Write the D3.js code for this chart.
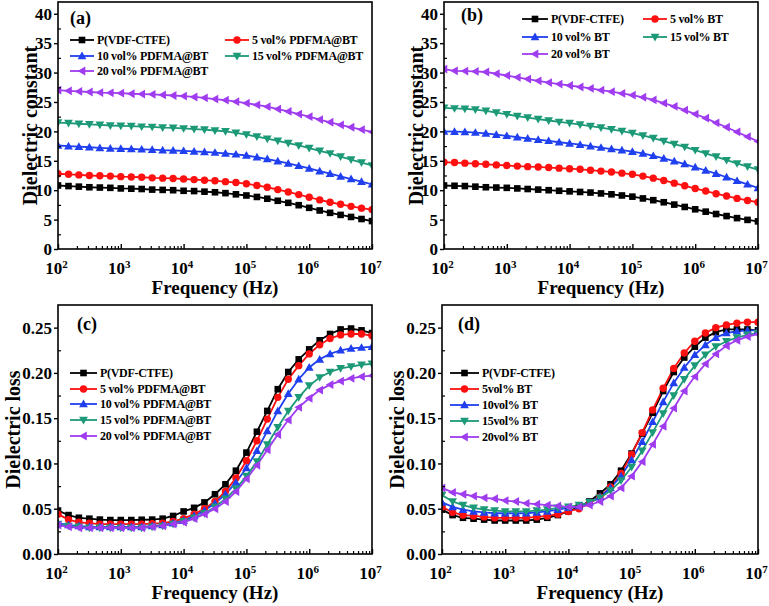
<!DOCTYPE html>
<html>
<head>
<meta charset="utf-8">
<script src="https://cdn.jsdelivr.net/npm/d3@7"></script>
<style>
  body { margin: 0; background: #fff; }
  svg { display: block; }
  text { font-family: "Liberation Serif", "Times New Roman", serif; font-weight: bold; fill: #000; }
</style>
</head>
<body>
<svg id="chart" width="769" height="606"></svg>
<script>
// ---------------- DATA ----------------
const freq = [1e2, 1.47e2, 2.15e2, 3.16e2, 4.64e2, 6.81e2,
              1e3, 1.47e3, 2.15e3, 3.16e3, 4.64e3, 6.81e3,
              1e4, 1.47e4, 2.15e4, 3.16e4, 4.64e4, 6.81e4,
              1e5, 1.47e5, 2.15e5, 3.16e5, 4.64e5, 6.81e5,
              1e6, 1.47e6, 2.15e6, 3.16e6, 4.64e6, 6.81e6, 1e7];

const xTickValues = [1e2, 1e3, 1e4, 1e5, 1e6, 1e7];
const xTickExponents = ["2", "3", "4", "5", "6", "7"];
const constTicks = [0, 5, 10, 15, 20, 25, 30, 35, 40];
const lossTicks = [0, 0.05, 0.10, 0.15, 0.20, 0.25];

const namesPDFMA = ["P(VDF-CTFE)", "5 vol% PDFMA@BT", "10 vol% PDFMA@BT", "15 vol% PDFMA@BT", "20 vol% PDFMA@BT"];
const namesBT_b = ["P(VDF-CTFE)", "5 vol% BT", "10 vol% BT", "15 vol% BT", "20 vol% BT"];
const namesBT_d = ["P(VDF-CTFE)", "5vol% BT", "10vol% BT", "15vol% BT", "20vol% BT"];

// (a) dielectric constant, PDFMA@BT
const a0 = [10.8,10.7,10.6,10.5,10.45,10.4,10.3,10.25,10.2,10.1,10.05,10.0,9.9,9.85,9.75,9.65,9.5,9.3,9.1,8.85,8.55,8.2,7.85,7.45,7.0,6.55,6.15,5.8,5.45,5.1,4.75];
const a5 = [12.8,12.7,12.6,12.5,12.45,12.4,12.3,12.25,12.2,12.1,12.05,12.0,11.9,11.8,11.7,11.6,11.45,11.3,11.1,10.8,10.5,10.1,9.7,9.25,8.8,8.35,7.95,7.6,7.25,6.95,6.7];
const a10 = [17.6,17.5,17.4,17.3,17.2,17.1,17.05,17.0,16.95,16.9,16.8,16.75,16.7,16.6,16.5,16.4,16.25,16.1,15.9,15.6,15.3,14.95,14.55,14.15,13.7,13.25,12.8,12.35,11.9,11.45,11.0];
const a15 = [21.5,21.4,21.3,21.2,21.1,21.0,20.95,20.9,20.8,20.75,20.65,20.6,20.5,20.4,20.3,20.15,20.0,19.75,19.45,19.1,18.75,18.4,18.0,17.6,17.15,16.7,16.25,15.7,15.2,14.7,14.2];
const a20 = [27.0,26.9,26.8,26.7,26.6,26.55,26.5,26.4,26.35,26.3,26.2,26.1,26.0,25.85,25.7,25.5,25.3,25.05,24.8,24.5,24.2,23.8,23.4,22.95,22.5,22.0,21.55,21.1,20.7,20.3,19.9];

// (b) dielectric constant, BT
const b0 = [10.8,10.75,10.7,10.6,10.5,10.45,10.4,10.3,10.2,10.1,10.0,9.9,9.8,9.7,9.6,9.45,9.3,9.1,8.9,8.6,8.3,7.95,7.55,7.15,6.75,6.35,5.95,5.6,5.25,4.95,4.7];
const b5 = [14.75,14.7,14.6,14.5,14.4,14.3,14.2,14.1,14.0,13.95,13.85,13.75,13.65,13.55,13.4,13.25,13.1,12.9,12.7,12.4,12.05,11.65,11.2,10.75,10.3,9.85,9.4,9.0,8.6,8.25,7.95];
const b10 = [20.0,19.95,19.9,19.8,19.65,19.45,19.25,19.0,18.8,18.6,18.4,18.15,17.95,17.75,17.5,17.25,17.0,16.8,16.55,16.25,15.85,15.4,14.95,14.45,13.9,13.35,12.8,12.2,11.6,11.0,10.4];
const b15 = [24.0,23.9,23.85,23.7,23.5,23.2,22.9,22.6,22.35,22.1,21.85,21.6,21.4,21.15,20.9,20.65,20.35,20.05,19.7,19.3,18.85,18.35,17.85,17.35,16.8,16.25,15.7,15.1,14.55,14.0,13.5];
const b20 = [30.6,30.3,30.25,30.2,30.1,29.8,29.5,29.2,28.9,28.6,28.3,28.05,27.8,27.55,27.3,27.0,26.75,26.45,26.15,25.8,25.35,24.8,24.25,23.6,22.95,22.25,21.45,20.7,19.9,19.1,18.3];

// (c) dielectric loss, PDFMA@BT
const c0 = [0.048,0.043,0.040,0.039,0.038,0.0375,0.0375,0.0375,0.0378,0.038,0.039,0.042,0.047,0.051,0.057,0.066,0.077,0.092,0.112,0.135,0.158,0.182,0.201,0.215,0.226,0.236,0.243,0.248,0.249,0.247,0.244];
const c5 = [0.044,0.038,0.035,0.034,0.033,0.033,0.033,0.033,0.033,0.0335,0.034,0.036,0.039,0.044,0.050,0.058,0.069,0.084,0.103,0.125,0.149,0.173,0.193,0.208,0.221,0.231,0.238,0.242,0.243,0.243,0.241];
const c10 = [0.034,0.032,0.031,0.030,0.030,0.030,0.030,0.030,0.030,0.031,0.032,0.034,0.037,0.042,0.048,0.056,0.066,0.079,0.095,0.114,0.136,0.158,0.177,0.193,0.206,0.215,0.221,0.225,0.227,0.228,0.229];
const c15 = [0.033,0.031,0.030,0.029,0.029,0.029,0.029,0.029,0.029,0.030,0.031,0.033,0.036,0.040,0.045,0.052,0.061,0.072,0.086,0.102,0.121,0.140,0.158,0.173,0.186,0.195,0.201,0.205,0.207,0.209,0.210];
const c20 = [0.032,0.030,0.029,0.029,0.029,0.029,0.029,0.029,0.029,0.030,0.031,0.033,0.035,0.039,0.044,0.050,0.058,0.069,0.083,0.098,0.115,0.132,0.148,0.162,0.172,0.181,0.187,0.191,0.194,0.196,0.197];

// (d) dielectric loss, BT
const d0 = [0.049,0.043,0.040,0.039,0.038,0.037,0.037,0.037,0.037,0.038,0.040,0.043,0.047,0.052,0.058,0.067,0.077,0.092,0.111,0.133,0.156,0.180,0.201,0.217,0.229,0.239,0.245,0.248,0.248,0.248,0.247];
const d5 = [0.052,0.046,0.043,0.042,0.041,0.040,0.040,0.040,0.040,0.041,0.042,0.044,0.047,0.050,0.056,0.063,0.074,0.089,0.110,0.134,0.159,0.183,0.205,0.222,0.235,0.244,0.250,0.253,0.255,0.256,0.256];
const d10 = [0.057,0.052,0.049,0.047,0.046,0.045,0.045,0.045,0.045,0.046,0.047,0.049,0.051,0.053,0.057,0.063,0.073,0.086,0.104,0.124,0.146,0.168,0.189,0.206,0.220,0.231,0.239,0.244,0.246,0.247,0.247];
const d15 = [0.065,0.058,0.054,0.051,0.049,0.048,0.047,0.047,0.047,0.048,0.049,0.051,0.052,0.054,0.057,0.062,0.070,0.081,0.096,0.114,0.134,0.155,0.175,0.193,0.208,0.220,0.229,0.235,0.239,0.242,0.244];
const d20 = [0.073,0.068,0.066,0.064,0.062,0.061,0.059,0.058,0.056,0.055,0.054,0.053,0.052,0.052,0.054,0.058,0.064,0.073,0.086,0.102,0.121,0.141,0.161,0.180,0.196,0.210,0.221,0.230,0.236,0.240,0.243];

// ---------------- STYLE ----------------
const colors = ["#000000", "#ff1010", "#2040f0", "#1c9a78", "#a03cf0"];
const symbols = ["square", "circle", "up", "down", "left"];

const svg = d3.select("#chart");

function drawMarker(g, type, x, y, color) {
  const s = 3.3;
  if (type === "square") {
    g.append("rect").attr("x", x - s).attr("y", y - s).attr("width", 2 * s).attr("height", 2 * s).attr("fill", color);
  } else if (type === "circle") {
    g.append("circle").attr("cx", x).attr("cy", y).attr("r", s + 0.4).attr("fill", color);
  } else {
    const r = s + 1.1;
    let pts;
    if (type === "up") pts = [[x, y - r], [x + r, y + r * 0.75], [x - r, y + r * 0.75]];
    else if (type === "down") pts = [[x, y + r], [x + r, y - r * 0.75], [x - r, y - r * 0.75]];
    else pts = [[x - r, y], [x + r * 0.75, y - r], [x + r * 0.75, y + r]];
    g.append("polygon").attr("points", pts.map(p => p.join(",")).join(" ")).attr("fill", color);
  }
}

function drawPanel(cfg) {
  const { left, right, top, bottom } = cfg;
  const x = d3.scaleLog().domain([1e2, 1e7]).range([left, right]);
  const y = d3.scaleLinear().domain(cfg.yDomain).range([bottom, top]);
  const g = svg.append("g");

  const clipId = "clip" + cfg.id;
  svg.append("clipPath").attr("id", clipId).append("rect")
    .attr("x", left).attr("y", top).attr("width", right - left).attr("height", bottom - top);

  const line = d3.line().x((d, i) => x(freq[i])).y(d => y(d));
  const sg = g.append("g").attr("clip-path", `url(#${clipId})`);
  cfg.series.forEach((vals, k) => {
    sg.append("path").datum(vals).attr("d", line).attr("fill", "none")
      .attr("stroke", colors[k]).attr("stroke-width", 1.8);
  });
  cfg.series.forEach((vals, k) => {
    vals.forEach((v, i) => drawMarker(sg, symbols[k], x(freq[i]), y(v), colors[k]));
  });

  // x axis (inward ticks)
  const minor = [];
  for (let e = 2; e < 7; e++) for (let m = 2; m <= 9; m++) minor.push(m * Math.pow(10, e));
  g.append("g").attr("transform", `translate(0,${bottom})`)
    .call(d3.axisBottom(x).tickValues(minor).tickSize(-3).tickFormat(""))
    .call(a => a.select(".domain").remove())
    .call(a => a.selectAll("line").attr("stroke-width", 1.2));
  const xa = g.append("g").attr("transform", `translate(0,${bottom})`)
    .call(d3.axisBottom(x).tickValues(xTickValues).tickSize(-5).tickFormat(""));
  xa.select(".domain").remove();
  xa.selectAll("line").attr("stroke-width", 1.4);
  xa.selectAll(".tick").each(function(d, i) {
    const t = d3.select(this).append("text").attr("y", 25).attr("x", -2)
      .attr("text-anchor", "middle").style("font-size", "17px");
    t.append("tspan").text("10");
    t.append("tspan").attr("dy", -6).style("font-size", "11px").text(xTickExponents[i]);
  });

  // y axis
  const ya = g.append("g").attr("transform", `translate(${left},0)`)
    .call(d3.axisLeft(y).tickValues(cfg.yTicks).tickSize(4).tickPadding(2).tickFormat(cfg.yFormat));
  ya.select(".domain").remove();
  ya.selectAll("line").attr("stroke-width", 1.4);
  ya.selectAll("text").style("font-size", "17px").attr("dy", "0.34em");
  g.append("g").attr("transform", `translate(${left},0)`)
    .call(d3.axisLeft(y).tickValues(cfg.yMinor).tickSize(-3).tickFormat(""))
    .call(a => a.select(".domain").remove())
    .call(a => a.selectAll("line").attr("stroke-width", 1.2));

  // frame
  g.append("rect").attr("x", left).attr("y", top).attr("width", right - left).attr("height", bottom - top)
    .attr("fill", "none").attr("stroke", "#000").attr("stroke-width", 1.6);

  // titles
  g.append("text").attr("x", (left + right) / 2).attr("y", bottom + 45)
    .attr("text-anchor", "middle").style("font-size", "19px").text("Frequency (Hz)");
  g.append("text").attr("transform", `translate(${cfg.yLabelX},${(top + bottom) / 2}) rotate(-90)`)
    .attr("text-anchor", "middle").attr("dy", "0.35em").style("font-size", "20px").text(cfg.yLabel);

  // panel label
  g.append("text").attr("x", cfg.tagX).attr("y", cfg.tagY).style("font-size", "18px").text(cfg.tag);

  // legend
  cfg.legend.forEach((it, k) => {
    const lg = g.append("g");
    lg.append("line").attr("x1", it.x1).attr("x2", it.x2).attr("y1", it.y).attr("y2", it.y)
      .attr("stroke", colors[k]).attr("stroke-width", 1.8);
    drawMarker(lg, symbols[k], (it.x1 + it.x2) / 2, it.y, colors[k]);
    lg.append("text").attr("x", it.x2 + 3).attr("y", it.y).attr("dy", "0.35em")
      .style("font-size", "12px").style("letter-spacing", "-0.3px").text(cfg.names[k]);
  });
}

const fmtInt = d3.format("d");
const fmt2 = d3.format(".2f");
const constMinor = [2.5, 7.5, 12.5, 17.5, 22.5, 27.5, 32.5, 37.5];
const lossMinor = [0.025, 0.075, 0.125, 0.175, 0.225];

drawPanel({
  id: "a", left: 58, right: 372, top: 2, bottom: 249, yDomain: [0, 42],
  yTicks: constTicks, yMinor: constMinor, yFormat: fmtInt, yLabel: "Dielectric constant", yLabelX: 30,
  tag: "(a)", tagX: 70, tagY: 24, names: namesPDFMA, series: [a0, a5, a10, a15, a20],
  legend: [{x1: 70, x2: 94, y: 40}, {x1: 225, x2: 249, y: 40}, {x1: 70, x2: 94, y: 56}, {x1: 225, x2: 249, y: 56}, {x1: 70, x2: 94, y: 71}]
});
drawPanel({
  id: "b", left: 444, right: 758, top: 2, bottom: 249, yDomain: [0, 42],
  yTicks: constTicks, yMinor: constMinor, yFormat: fmtInt, yLabel: "Dielectric constant", yLabelX: 416,
  tag: "(b)", tagX: 461, tagY: 21, names: namesBT_b, series: [b0, b5, b10, b15, b20],
  legend: [{x1: 522, x2: 548, y: 19}, {x1: 643, x2: 667, y: 19}, {x1: 522, x2: 548, y: 37}, {x1: 643, x2: 667, y: 37}, {x1: 522, x2: 548, y: 54}]
});
drawPanel({
  id: "c", left: 58, right: 372, top: 305, bottom: 554, yDomain: [0, 0.275],
  yTicks: lossTicks, yMinor: lossMinor, yFormat: fmt2, yLabel: "Dielectric loss", yLabelX: 13,
  tag: "(c)", tagX: 77, tagY: 330, names: namesPDFMA, series: [c0, c5, c10, c15, c20],
  legend: [{x1: 70, x2: 97, y: 373}, {x1: 70, x2: 97, y: 389}, {x1: 70, x2: 97, y: 404}, {x1: 70, x2: 97, y: 420}, {x1: 70, x2: 97, y: 436}]
});
drawPanel({
  id: "d", left: 442, right: 758, top: 305, bottom: 554, yDomain: [0, 0.275],
  yTicks: lossTicks, yMinor: lossMinor, yFormat: fmt2, yLabel: "Dielectric loss", yLabelX: 397,
  tag: "(d)", tagX: 458, tagY: 330, names: namesBT_d, series: [d0, d5, d10, d15, d20],
  legend: [{x1: 450, x2: 479, y: 373}, {x1: 450, x2: 479, y: 389}, {x1: 450, x2: 479, y: 405}, {x1: 450, x2: 479, y: 421}, {x1: 450, x2: 479, y: 437}]
});
</script>
</body>
</html>
